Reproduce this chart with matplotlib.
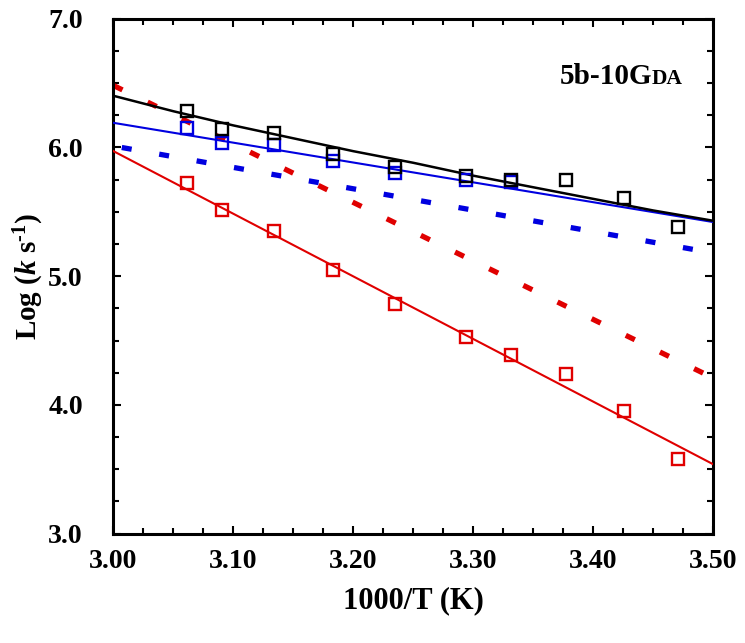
import matplotlib
matplotlib.use("Agg")
import matplotlib.pyplot as plt
from matplotlib.ticker import MultipleLocator, FormatStrFormatter
from matplotlib.transforms import offset_copy

plt.rcParams['font.family'] = ['Liberation Serif', 'DejaVu Serif']
plt.rcParams['font.weight'] = 'bold'
plt.rcParams['mathtext.fontset'] = 'custom'
plt.rcParams['mathtext.rm'] = 'Liberation Serif:bold'
plt.rcParams['mathtext.it'] = 'Liberation Serif:bold:italic'
plt.rcParams['mathtext.bf'] = 'Liberation Serif:bold'

# measured points (1000/T, log k)
inv_t = [3.0616, 3.0907, 3.1339, 3.1833, 3.2348, 3.2937, 3.3313, 3.3774, 3.4262, 3.4712]
log_k_total = [6.28, 6.14, 6.11, 5.95, 5.85, 5.78, 5.75, 5.75, 5.61, 5.38]
log_k_red = [5.72, 5.51, 5.35, 5.05, 4.78, 4.53, 4.39, 4.24, 3.95, 3.58]
inv_t_blue = inv_t[:7]
log_k_blue = [6.15, 6.03, 6.02, 5.89, 5.80, 5.75, 5.73]

# fitted curves
fit_x = [3.00, 3.05, 3.10, 3.15, 3.20, 3.25, 3.30, 3.35, 3.40, 3.45, 3.50]
fit_total = [6.40, 6.28, 6.17, 6.07, 5.97, 5.88, 5.78, 5.69, 5.60, 5.51, 5.43]
ends_x = [3.00, 3.50]
fit_red = [5.97, 3.54]
fit_blue = [6.19, 5.42]
calc_red = [6.48, 4.21]
calc_blue = [6.01, 5.18]

RED = '#e00000'
BLUE = '#0000e0'

fig = plt.figure(figsize=(7.45, 6.43), dpi=100)
ax = fig.add_axes([0.1523, 0.170, 0.8047, 0.8012])

ax.plot(ends_x, calc_red, color=RED, lw=3.8, linestyle=(0, (1.9, 5.3)), dash_capstyle='butt', zorder=2)
ax.plot(ends_x, calc_blue, color=BLUE, lw=3.8, linestyle=(5.6, (1.9, 5.3)), dash_capstyle='butt', zorder=2)
ax.plot(ends_x, fit_red, color=RED, lw=1.5, zorder=3)
ax.plot(ends_x, fit_blue, color=BLUE, lw=1.5, zorder=3)
ax.plot(fit_x, fit_total, color='black', lw=1.8, zorder=4)

ax.plot(inv_t, log_k_red, ls='none', marker='s', ms=9.3, mfc='none', mec=RED, mew=1.7, zorder=5)
ax.plot(inv_t_blue, log_k_blue, ls='none', marker='s', ms=9.3, mfc='none', mec=BLUE, mew=1.7, zorder=5)
ax.plot(inv_t, log_k_total, ls='none', marker='s', ms=9.3, mfc='none', mec='black', mew=1.7, zorder=6)

ax.set_xlim(3.0, 3.5)
ax.set_ylim(3.0, 7.0)
ax.xaxis.set_major_locator(MultipleLocator(0.1))
ax.xaxis.set_minor_locator(MultipleLocator(0.025))
ax.yaxis.set_major_locator(MultipleLocator(1.0))
ax.yaxis.set_minor_locator(MultipleLocator(0.25))
ax.xaxis.set_major_formatter(FormatStrFormatter('%.2f'))
ax.yaxis.set_major_formatter(FormatStrFormatter('%.1f'))
ax.tick_params(which='both', direction='in', top=True, right=True, width=1.5, labelsize=20)
ax.tick_params(axis='x', pad=11)
ax.tick_params(axis='y', pad=22)
ax.tick_params(which='major', length=5.8)
ax.tick_params(which='minor', length=4.3)
for s in ax.spines.values():
    s.set_linewidth(2.2)

ax.set_xlabel('1000/T (K)', fontsize=22, fontweight='bold', labelpad=9)
ax.set_ylabel(r'Log ($k$ s$^{\text{-1}}$)', fontsize=21, fontweight='bold', labelpad=2)

# small-caps style label: "5b-10G" + smaller "DA" on the same baseline
t2 = ax.text(0.95, 0.873, 'DA', transform=ax.transAxes, ha='right', va='baseline',
             fontsize=15.5, fontweight='bold')
fig.canvas.draw()
w = t2.get_window_extent().width * 72.0 / fig.dpi
ax.text(0.95, 0.873, '5b-10G', ha='right', va='baseline', fontsize=21, fontweight='bold',
        transform=offset_copy(ax.transAxes, fig=fig, x=-w, y=0, units='points'))

fig.savefig('out.png', dpi=100)
